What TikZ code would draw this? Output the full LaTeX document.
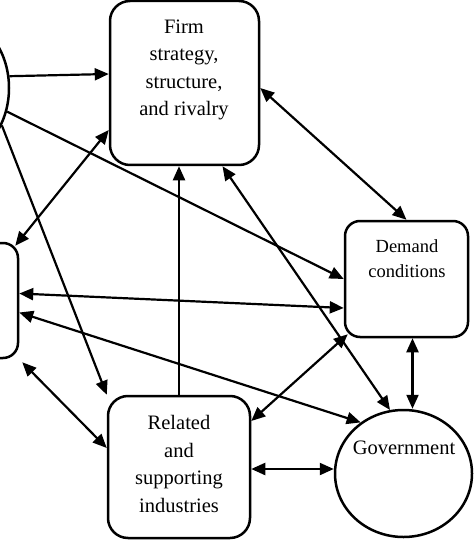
\documentclass[tikz,border=0pt]{standalone}
\usepackage{fontspec}
\setmainfont{Liberation Serif}
\usepackage{tikz}
\usetikzlibrary{arrows.meta}
\usetikzlibrary{shapes.geometric}
\usetikzlibrary{calc}
\tikzset{
  box/.style={draw, line width=2.5pt, rounded corners=20pt, inner sep=0pt},
  oval/.style={draw, ellipse, line width=2.5pt, inner sep=0pt},
  lbl/.style={align=center, inner sep=0pt, font=\fontsize{20.5}{27.5}\selectfont},
  arr/.style={line width=2.2pt, -{Triangle[length=14pt,width=12pt]}},
  dbl/.style={line width=2.2pt, {Triangle[length=14pt,width=12pt]}-{Triangle[length=14pt,width=12pt]}}
}

\begin{document}
\begin{tikzpicture}[x=1pt,y=-1pt]
  \useasboundingbox (0,0) rectangle (474,540);
  \clip (0,0) rectangle (474,540);
  % the five boxes
  \node[oval, minimum width=110pt, minimum height=140pt] (chance) at (-46,88) {};
  \node[box, minimum width=149pt, minimum height=164pt] (firm) at (184.5,83) {};
  \node[box, rounded corners=15pt, minimum width=120pt, minimum height=115pt] (factor) at (-42,300.5) {};
  \node[box, rounded corners=15pt, minimum width=123pt, minimum height=116pt] (demand) at (406.5,279) {};
  \node[box, minimum width=142pt, minimum height=142pt] (related) at (179,467) {};
  \node[oval, minimum width=137pt, minimum height=127pt] (gov) at (403.5,473.5) {};
  % their texts
  \node[lbl] (firmtxt) at (184,70) {Firm\\strategy,\\structure,\\and rivalry};
  \node[lbl, font=\fontsize{18.5}{25}\selectfont] (demandtxt) at (407,259) {Demand\\conditions};
  \node[lbl] (relatedtxt) at (179,464) {Related\\and\\supporting\\industries};
  \node[lbl] (govtxt) at (404,448) {Government};
  % arrows
  \path[arr]
    (chance.12) edge ($(firm.west)+(0,-9)$)
    (chance.-24) edge (demand.west)
    (chance.-38) edge (related.north west)
    (related.north) edge (related.north |- firm.south);
  \path[dbl]
    ($(factor.north east)+(-4,4)$) edge ($(firm.west)+(0,47)$)
    ($(firm.east)+(0,5)$) edge (demand.north)
    ($(firm.south)+(38,0)$) edge (gov.102)
    ($(factor.east)+(0,-7)$) edge ($(demand.west)+(0,29)$)
    ($(factor.east)+(0,12)$) edge (gov.130)
    ($(factor.south east)+(3,3)$) edge ($(related.west)+(0,-19)$)
    ($(related.east)+(0,-46)$) edge ($(demand.south west)+(4,-4)$)
    ($(related.east)+(0,2)$) edge ($(gov.west)+(0,-4.5)$);
  \coordinate (dg) at ($(demand.south)+(6,0)$);
  \path[dbl] (dg) edge (dg |- gov.north);
\end{tikzpicture}
\end{document}
